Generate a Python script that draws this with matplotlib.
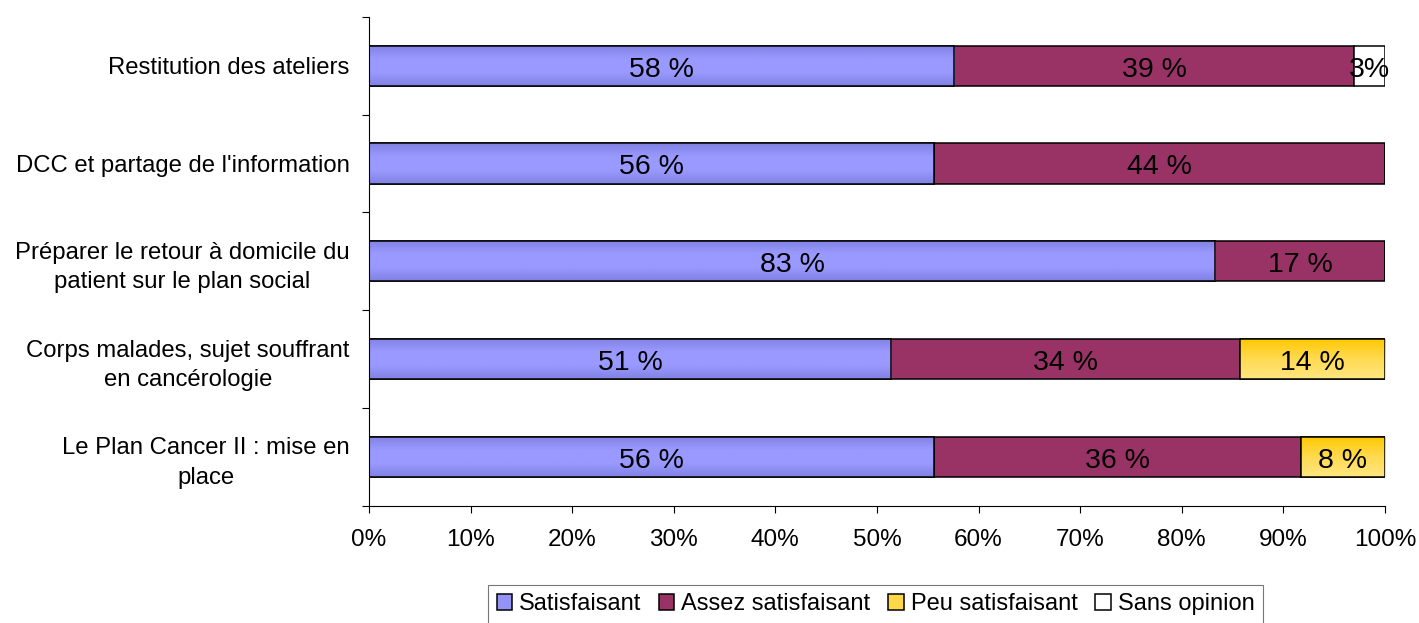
import matplotlib
matplotlib.use("Agg")
import matplotlib.pyplot as plt
from matplotlib.colors import LinearSegmentedColormap
import numpy as np

plt.rcParams['font.family'] = ['Liberation Sans', 'DejaVu Sans']

# Catégories (de haut en bas)
categories = [
    "Restitution des ateliers",
    "DCC et partage de l'information",
    "Préparer le retour à domicile du\npatient sur le plan social",
    "Corps malades, sujet souffrant\nen cancérologie",
    "Le Plan Cancer II : mise en\nplace",
]

series_names = ["Satisfaisant", "Assez satisfaisant", "Peu satisfaisant", "Sans opinion"]

# Valeurs en %
satisfaisant = [57.6, 55.6, 83.3, 51.4, 55.6]
assez_satisfaisant = [39.4, 44.4, 16.7, 34.3, 36.1]
peu_satisfaisant = [0.0, 0.0, 0.0, 14.3, 8.3]
sans_opinion = [3.0, 0.0, 0.0, 0.0, 0.0]

# Étiquettes affichées dans les barres
labels_satisfaisant = ["58 %", "56 %", "83 %", "51 %", "56 %"]
labels_assez = ["39 %", "44 %", "17 %", "34 %", "36 %"]
labels_peu = ["", "", "", "14 %", "8 %"]
labels_sans = ["3%", "", "", "", ""]

couleurs = ["#9494F8", "#993366", "#FFD84A", "#FFFFFF"]

# dégradés (haut -> bas) pour imiter le rendu Excel
degrades = {
    0: ["#8282E4", "#9999FF", "#9999FF", "#8282E4"],
    2: ["#FFC800", "#FFDA50", "#FFE680"],
}

fig = plt.figure(figsize=(14.19, 6.23), dpi=100)
ax = fig.add_axes([0.260, 0.188, 0.716, 0.785])

y = np.arange(len(categories))
valeurs = [satisfaisant, assez_satisfaisant, peu_satisfaisant, sans_opinion]
etiquettes = [labels_satisfaisant, labels_assez, labels_peu, labels_sans]

gauche = np.zeros(len(categories))
for i, (nom, vals, labs, c) in enumerate(zip(series_names, valeurs, etiquettes, couleurs)):
    vals = np.array(vals)
    bars = ax.barh(y, vals, left=gauche, height=0.41, color=c,
                   edgecolor="black", linewidth=1.1, label=nom, zorder=2)
    for b, v, lab in zip(bars, vals, labs):
        if v <= 0:
            continue
        if i in degrades:
            cmap = LinearSegmentedColormap.from_list(f"g{i}", degrades[i])
            grad = np.linspace(0, 1, 64).reshape(-1, 1)
            x0, y0 = b.get_x(), b.get_y()
            img = ax.imshow(grad, cmap=cmap, aspect="auto", origin="upper",
                            extent=[x0, x0 + b.get_width(), y0 + b.get_height(), y0],
                            zorder=2.1)
            img.set_clip_path(b)
            # redessiner le contour par-dessus
            ax.add_patch(plt.Rectangle((x0, y0), b.get_width(), b.get_height(),
                                       fill=False, edgecolor="black", linewidth=1.1,
                                       zorder=2.2))
        if lab:
            ax.text(b.get_x() + b.get_width() / 2, b.get_y() + b.get_height() / 2 + 0.04,
                    lab, ha="center", va="center", fontsize=20.5, color="black", zorder=3)
    gauche += vals

ax.set_xlim(0, 100)
ax.set_ylim(len(categories) - 0.5, -0.5)

ax.set_xticks(np.arange(0, 101, 10))
ax.set_xticklabels([f"{v}%" for v in range(0, 101, 10)], fontsize=17.5)
ax.tick_params(axis="x", direction="out", length=5, width=0.8, pad=12, colors="black")

ax.set_yticks(y)
ax.set_yticklabels(categories, fontsize=17.2)
for t in ax.get_yticklabels():
    t.set_multialignment("center")
    t.set_linespacing(1.45)
ax.tick_params(axis="y", which="major", length=0, pad=14)
ax.set_yticks(np.arange(-0.5, len(categories), 1), minor=True)
ax.tick_params(axis="y", which="minor", direction="out", length=5, width=0.8)

ax.spines["top"].set_visible(False)
ax.spines["right"].set_visible(False)
ax.spines["left"].set_linewidth(0.8)
ax.spines["bottom"].set_linewidth(0.8)

leg = fig.legend(loc="lower center", bbox_to_anchor=(0.617, -0.02), ncol=4,
                 fontsize=17, frameon=True, fancybox=False, handlelength=0.65,
                 handleheight=0.65, handletextpad=0.3, columnspacing=0.75,
                 borderpad=0.35)
leg.get_frame().set_edgecolor("#555555")
leg.get_frame().set_linewidth(0.8)

fig.savefig("out.png", dpi=100)
